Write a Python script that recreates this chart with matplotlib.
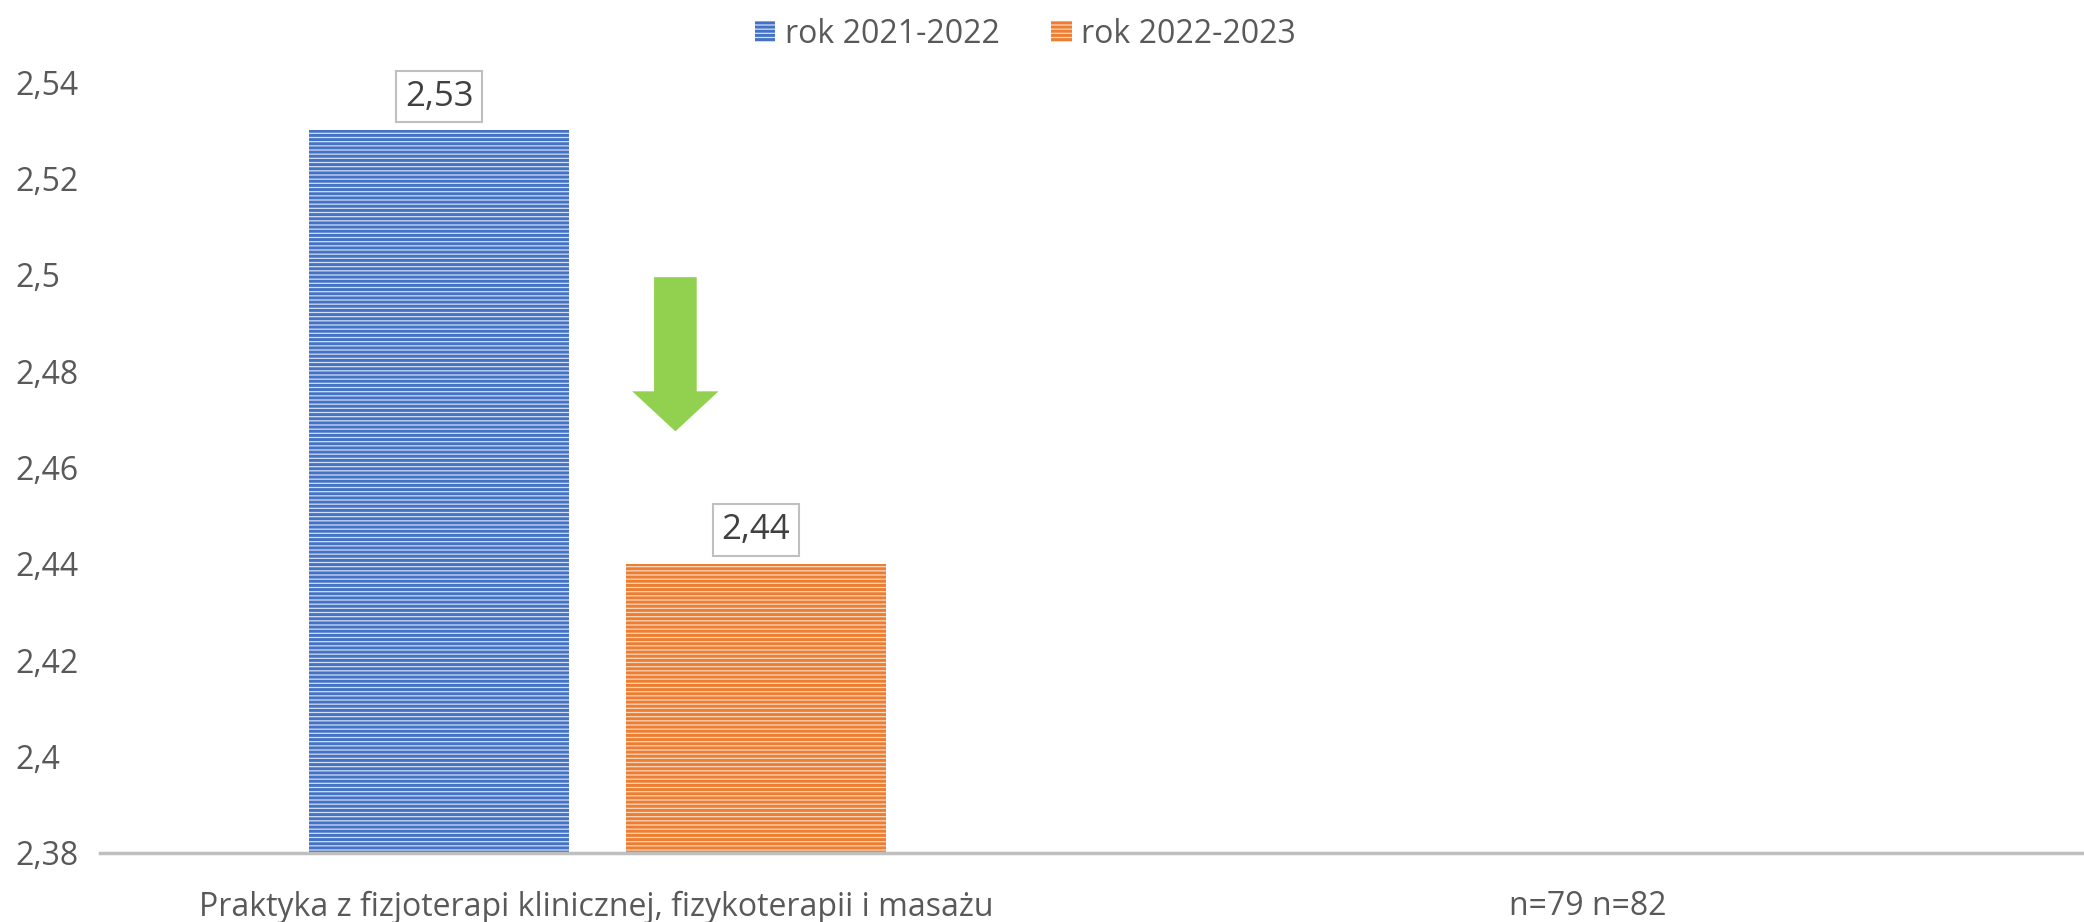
import matplotlib
matplotlib.use("Agg")
import matplotlib.pyplot as plt
from matplotlib.patches import FancyArrow, Patch
from matplotlib.ticker import FuncFormatter

categories = ["Praktyka z fizjoterapi klinicznej, fizykoterapii i masażu", "n=79 n=82"]
series_names = ["rok 2021-2022", "rok 2022-2023"]
values_2122 = [2.53, None]
values_2223 = [2.44, None]
y_ticks = [2.38, 2.40, 2.42, 2.44, 2.46, 2.48, 2.50, 2.52, 2.54]

colors = ["#4472C4", "#ED7D31"]
fills = ["#d3dff3", "#f9d8c0"]
text_color = "#595959"

plt.rcParams["font.family"] = ["Open Sans", "DejaVu Sans"]
plt.rcParams["hatch.linewidth"] = 2.1

fig = plt.figure(figsize=(20.84, 9.22), dpi=100)
ax = fig.add_axes([0.048, 0.075, 0.952, 0.836])

offsets = [-0.158, 0.161]
width = 0.262
for series, off, col, fill in zip([values_2122, values_2223], offsets, colors, fills):
    for i, v in enumerate(series):
        if v is None:
            continue
        ax.bar(i + off, v - 2.38, bottom=2.38, width=width, facecolor=fill,
               edgecolor=col, hatch="----", linewidth=0, zorder=2)
        ax.annotate(f"{v:.2f}".replace(".", ","), (i + off, v), xytext=(0, 12), textcoords="offset points",
                    ha="center", va="bottom", fontsize=25, color="#404040",
                    bbox=dict(boxstyle="square,pad=0.25", fc="white", ec="#BFBFBF", lw=1.5))

# green down arrow
ax.add_patch(FancyArrow(0.080, 2.4995, 0, -0.032, width=0.043, head_width=0.087, head_length=0.0083,
                        length_includes_head=True, color="#92D050", lw=0, zorder=3))

ax.set_xlim(-0.5, 1.5)
ax.set_ylim(2.38, 2.54)
ax.set_yticks(y_ticks)
ax.yaxis.set_major_formatter(FuncFormatter(lambda v, p: f"{v:g}".replace(".", ",")))
ax.set_xticks(range(len(categories)))
ax.set_xticklabels(categories)
ax.tick_params(axis="both", length=0, labelsize=23, labelcolor=text_color)
ax.tick_params(axis="x", pad=27)
ax.tick_params(axis="y", pad=61)
for lab in ax.get_yticklabels():
    lab.set_horizontalalignment("left")
for s in ["top", "right", "left"]:
    ax.spines[s].set_visible(False)
ax.spines["bottom"].set_color("#BFBFBF")
ax.spines["bottom"].set_linewidth(2.5)

handles = [Patch(facecolor=fills[0], edgecolor=colors[0], hatch="----", lw=0),
           Patch(facecolor=fills[1], edgecolor=colors[1], hatch="----", lw=0)]
fig.legend(handles, series_names, loc="upper center", bbox_to_anchor=(0.492, 1.012), ncol=2, frameon=False,
           fontsize=23, labelcolor=text_color, handlelength=0.65, handleheight=0.65, handletextpad=0.3,
           columnspacing=1.6)

fig.savefig("out.png", dpi=100)
